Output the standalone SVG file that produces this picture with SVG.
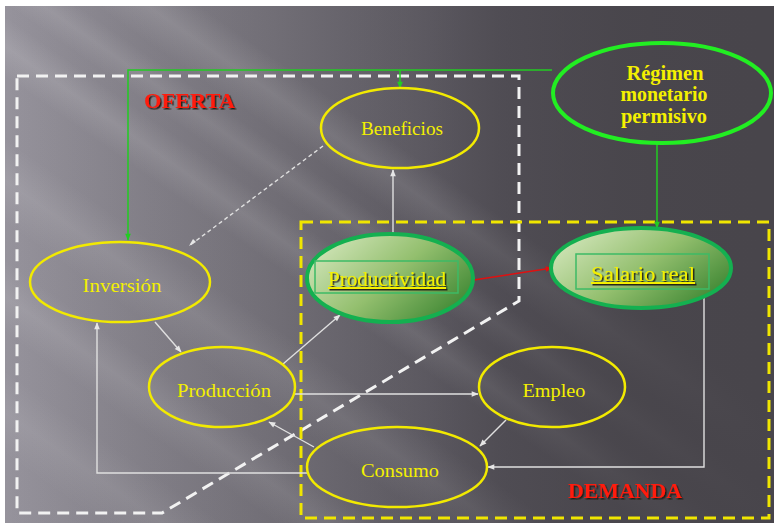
<svg xmlns="http://www.w3.org/2000/svg" width="774" height="523" viewBox="0 0 774 523">
  <defs>
    <linearGradient id="bgBase" x1="0" y1="0" x2="1" y2="0">
      <stop offset="0" stop-color="#96939c"/>
      <stop offset="0.35" stop-color="#77747c"/>
      <stop offset="0.65" stop-color="#55525a"/>
      <stop offset="1" stop-color="#48454b"/>
    </linearGradient>
    <linearGradient id="streak" x1="0" y1="0" x2="0" y2="1">
      <stop offset="0" stop-color="#ffffff" stop-opacity="0"/>
      <stop offset="0.5" stop-color="#ffffff" stop-opacity="1"/>
      <stop offset="1" stop-color="#ffffff" stop-opacity="0"/>
    </linearGradient>
    <linearGradient id="fadeRight" x1="0" y1="0" x2="1" y2="0">
      <stop offset="0" stop-color="#48454b" stop-opacity="0"/>
      <stop offset="0.55" stop-color="#48454b" stop-opacity="0.2"/>
      <stop offset="0.8" stop-color="#48454b" stop-opacity="0.8"/>
      <stop offset="1" stop-color="#48454b" stop-opacity="1"/>
    </linearGradient>
    <linearGradient id="greenFill" x1="0" y1="0.2" x2="1" y2="0.8">
      <stop offset="0" stop-color="#d3e6bb"/>
      <stop offset="0.5" stop-color="#93bf6e"/>
      <stop offset="1" stop-color="#3a8430"/>
    </linearGradient>
    <filter id="shadow" x="-10%" y="-30%" width="120%" height="160%">
      <feDropShadow dx="1.5" dy="1.5" stdDeviation="0.6" flood-color="#1a1410" flood-opacity="0.9"/>
    </filter>
    <clipPath id="panel">
      <rect x="5" y="6" width="769" height="517"/>
    </clipPath>
    <marker id="arrW" viewBox="0 0 10 10" refX="9" refY="5" markerWidth="9" markerHeight="7" markerUnits="userSpaceOnUse" orient="auto">
      <path d="M0,1 L10,5 L0,9 Z" fill="#e6e6e6"/>
    </marker>
    <marker id="arrG" viewBox="0 0 10 10" refX="9" refY="5" markerWidth="10" markerHeight="7" markerUnits="userSpaceOnUse" orient="auto">
      <path d="M0,1 L10,5 L0,9 Z" fill="#22cc22"/>
    </marker>
    <marker id="arrR" viewBox="0 0 10 10" refX="9" refY="5" markerWidth="10" markerHeight="7" markerUnits="userSpaceOnUse" orient="auto">
      <path d="M0,1 L10,5 L0,9 Z" fill="#e01010"/>
    </marker>
    <style>
      .node { fill: none; stroke: #f2ea00; stroke-width: 2.5; }
      .gnode { fill: url(#greenFill); stroke: #14b050; stroke-width: 4; }
      .inner { fill: none; stroke: #3dbb66; stroke-width: 1.5; }
      .lbl { font-family: "Liberation Serif", "DejaVu Serif", serif; font-size: 19px; fill: #f4f000; text-anchor: middle; }
      .glbl { font-family: "Liberation Serif", "DejaVu Serif", serif; font-size: 20px; fill: #f4f000; text-anchor: middle; text-decoration: underline; filter: url(#shadow); }
      .reg { font-family: "Liberation Serif", "DejaVu Serif", serif; font-size: 20px; font-weight: bold; fill: #f4f000; text-anchor: middle; }
      .zone { font-family: "Liberation Serif", "DejaVu Serif", serif; font-size: 20px; font-weight: bold; fill: #ff1a0a; filter: url(#shadow); }
      .link { fill: none; stroke: #e0e0e0; stroke-width: 1.4; }
      .streak { fill: url(#streak); }
    </style>
  </defs>

  <!-- background panel with diagonal light streaks -->
  <rect x="0" y="0" width="774" height="523" fill="#ffffff"/>
  <g clip-path="url(#panel)">
    <rect x="5" y="6" width="769" height="517" fill="url(#bgBase)"/>
    <g transform="rotate(35)">
      <rect class="streak" x="-300" y="-110" width="1400" height="60" opacity="0.13"/>
      <rect class="streak" x="-300" y="-40" width="1400" height="40" opacity="0.10"/>
      <rect class="streak" x="-300" y="10" width="1400" height="50" opacity="0.12"/>
      <rect class="streak" x="-300" y="110" width="1400" height="70" opacity="0.10"/>
      <rect class="streak" x="-300" y="210" width="1400" height="60" opacity="0.10"/>
      <rect class="streak" x="-300" y="300" width="1400" height="70" opacity="0.08"/>
    </g>
    <rect x="5" y="6" width="769" height="517" fill="url(#fadeRight)"/>
  </g>

  <!-- region outlines -->
  <g id="oferta-zone">
    <path d="M17,76 H519 V301 L162,513 H17 Z" fill="none" stroke="#f2f2f2" stroke-width="3" stroke-dasharray="12 7"/>
    <text class="zone" x="144" y="108" textLength="91" lengthAdjust="spacingAndGlyphs">OFERTA</text>
  </g>
  <g id="demanda-zone">
    <rect x="301" y="222" width="468" height="296" fill="none" stroke="#f0e600" stroke-width="3" stroke-dasharray="12 7"/>
    <text class="zone" x="568" y="498" textLength="114" lengthAdjust="spacingAndGlyphs">DEMANDA</text>
  </g>

  <!-- connectors -->
  <g id="connectors">
    <polyline points="552,70 128,70 128,240" fill="none" stroke="#22cc22" stroke-width="1.5" marker-end="url(#arrG)"/>
    <line x1="400" y1="70" x2="400" y2="88" stroke="#22cc22" stroke-width="1.5" marker-end="url(#arrG)"/>
    <line x1="657" y1="143" x2="657" y2="228" stroke="#22cc22" stroke-width="1.5" marker-end="url(#arrG)"/>
    <line x1="323" y1="146" x2="189" y2="246" class="link" stroke-dasharray="4 3"/>
    <path d="M196,242 L189,246 L193,239 Z" fill="#e6e6e6"/>
    <line x1="393" y1="240" x2="393" y2="170" class="link" marker-end="url(#arrW)"/>
    <line x1="155" y1="322" x2="181" y2="352" class="link" marker-end="url(#arrW)"/>
    <line x1="283" y1="364" x2="340" y2="315" class="link" marker-end="url(#arrW)"/>
    <line x1="295" y1="394" x2="478" y2="394" class="link" marker-end="url(#arrW)"/>
    <line x1="506" y1="420" x2="480" y2="446" class="link" marker-end="url(#arrW)"/>
    <polyline points="704,295 704,467 488,467" class="link" marker-end="url(#arrW)"/>
    <line x1="314" y1="447" x2="269" y2="422" class="link" marker-end="url(#arrW)"/>
    <polyline points="307,473 97,473 97,323" class="link" marker-end="url(#arrW)"/>
    <line x1="467" y1="281" x2="552" y2="268" stroke="#e01010" stroke-width="1.4" marker-end="url(#arrR)"/>
  </g>

  <!-- nodes -->
  <g id="regimen">
    <ellipse cx="662" cy="93" rx="109" ry="50" fill="none" stroke="#22ee22" stroke-width="4"/>
    <text class="reg" x="665" y="80" textLength="77" lengthAdjust="spacingAndGlyphs">Régimen</text>
    <text class="reg" x="664" y="101" textLength="87" lengthAdjust="spacingAndGlyphs">monetario</text>
    <text class="reg" x="664" y="123" textLength="86" lengthAdjust="spacingAndGlyphs">permisivo</text>
  </g>
  <g id="beneficios">
    <ellipse class="node" cx="400" cy="128" rx="79" ry="40"/>
    <text class="lbl" x="402" y="135" textLength="82" lengthAdjust="spacingAndGlyphs">Beneficios</text>
  </g>
  <g id="inversion">
    <ellipse class="node" cx="120" cy="282" rx="90" ry="40"/>
    <text class="lbl" x="122" y="292" textLength="79" lengthAdjust="spacingAndGlyphs">Inversión</text>
  </g>
  <g id="produccion">
    <ellipse class="node" cx="222" cy="387" rx="73" ry="40"/>
    <text class="lbl" x="224" y="397" textLength="94" lengthAdjust="spacingAndGlyphs">Producción</text>
  </g>
  <g id="empleo">
    <ellipse class="node" cx="552" cy="387" rx="73" ry="40"/>
    <text class="lbl" x="554" y="397" textLength="63" lengthAdjust="spacingAndGlyphs">Empleo</text>
  </g>
  <g id="consumo">
    <ellipse class="node" cx="397" cy="467" rx="90" ry="40"/>
    <text class="lbl" x="400" y="477" textLength="78" lengthAdjust="spacingAndGlyphs">Consumo</text>
  </g>
  <g id="productividad">
    <ellipse class="gnode" cx="390" cy="278" rx="83" ry="44"/>
    <rect class="inner" x="315" y="261" width="143" height="32"/>
    <text class="glbl" x="387" y="286" textLength="118" lengthAdjust="spacingAndGlyphs">Productividad</text>
  </g>
  <g id="salario-real">
    <ellipse class="gnode" cx="641" cy="268" rx="90" ry="40" stroke-width="3"/>
    <rect class="inner" x="576" y="254" width="133" height="35"/>
    <text class="glbl" x="643" y="281" textLength="104" lengthAdjust="spacingAndGlyphs">Salario real</text>
  </g>
</svg>
